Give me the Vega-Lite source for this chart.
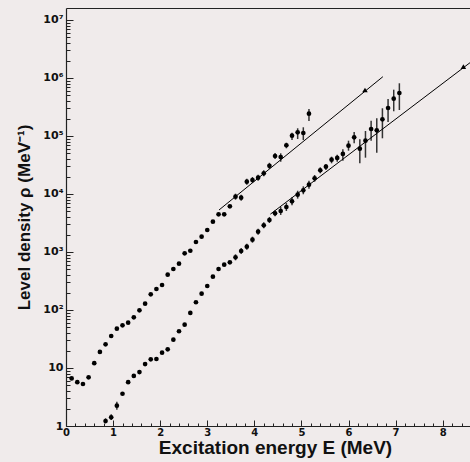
{
  "$schema": "https://vega.github.io/schema/vega-lite/v6.json",
  "width": 404,
  "height": 418,
  "autosize": "none",
  "padding": {"left": 66, "top": 8, "right": 0, "bottom": 36},
  "background": "#f0ebeb",
  "config": {
    "view": {"stroke": null},
    "axis": {
      "grid": false,
      "domainColor": "#222222",
      "tickColor": "#222222",
      "labelColor": "#111111",
      "labelFont": "DejaVu Sans",
      "labelFontWeight": "bold",
      "titleFont": "Liberation Sans",
      "titleFontWeight": "bold",
      "titleColor": "#111111",
      "labelOverlap": false,
      "labelFlush": false,
      "labelBound": false
    }
  },
  "datasets": {
    "pts": [
      {"series": "upper", "E": 0.12, "rho": 6.6},
      {"series": "upper", "E": 0.24, "rho": 5.7},
      {"series": "upper", "E": 0.36, "rho": 5.3},
      {"series": "upper", "E": 0.48, "rho": 6.9},
      {"series": "upper", "E": 0.60, "rho": 12.1},
      {"series": "upper", "E": 0.72, "rho": 18.9},
      {"series": "upper", "E": 0.84, "rho": 25.6},
      {"series": "upper", "E": 0.96, "rho": 35.6},
      {"series": "upper", "E": 1.08, "rho": 47.6},
      {"series": "upper", "E": 1.20, "rho": 54.5},
      {"series": "upper", "E": 1.32, "rho": 60.4},
      {"series": "upper", "E": 1.44, "rho": 74.8},
      {"series": "upper", "E": 1.56, "rho": 98.8},
      {"series": "upper", "E": 1.68, "rho": 128.5},
      {"series": "upper", "E": 1.80, "rho": 186.6},
      {"series": "upper", "E": 1.92, "rho": 230},
      {"series": "upper", "E": 2.04, "rho": 270},
      {"series": "upper", "E": 2.16, "rho": 406},
      {"series": "upper", "E": 2.28, "rho": 509},
      {"series": "upper", "E": 2.40, "rho": 628},
      {"series": "upper", "E": 2.52, "rho": 950},
      {"series": "upper", "E": 2.64, "rho": 1052},
      {"series": "upper", "E": 2.76, "rho": 1487},
      {"series": "upper", "E": 2.88, "rho": 1836},
      {"series": "upper", "E": 3.00, "rho": 2393},
      {"series": "upper", "E": 3.12, "rho": 3337},
      {"series": "upper", "E": 3.24, "rho": 4466},
      {"series": "upper", "E": 3.36, "rho": 4466},
      {"series": "upper", "E": 3.48, "rho": 6140},
      {"series": "upper", "E": 3.60, "rho": 8980, "lo": 7970, "hi": 10120},
      {"series": "upper", "E": 3.72, "rho": 8630, "lo": 7660, "hi": 9730},
      {"series": "upper", "E": 3.84, "rho": 16300, "lo": 14460, "hi": 18370},
      {"series": "upper", "E": 3.96, "rho": 17420, "lo": 15460, "hi": 19630},
      {"series": "upper", "E": 4.08, "rho": 19100, "lo": 16950, "hi": 21530},
      {"series": "upper", "E": 4.20, "rho": 22750, "lo": 20190, "hi": 25640},
      {"series": "upper", "E": 4.32, "rho": 30600, "lo": 27150, "hi": 34490},
      {"series": "upper", "E": 4.44, "rho": 45200, "lo": 40110, "hi": 50940},
      {"series": "upper", "E": 4.56, "rho": 43400, "lo": 36000, "hi": 50300},
      {"series": "upper", "E": 4.68, "rho": 69200, "lo": 61400, "hi": 76600},
      {"series": "upper", "E": 4.80, "rho": 101200, "lo": 85300, "hi": 114000},
      {"series": "upper", "E": 4.92, "rho": 115600, "lo": 88800, "hi": 135800},
      {"series": "upper", "E": 5.04, "rho": 112700, "lo": 85300, "hi": 141300},
      {"series": "upper", "E": 5.16, "rho": 242500, "lo": 181500, "hi": 292500},
      {"series": "lower", "E": 0.84, "rho": 1.22, "lo": 1.11, "hi": 1.36},
      {"series": "lower", "E": 0.96, "rho": 1.41, "lo": 1.27, "hi": 1.59},
      {"series": "lower", "E": 1.08, "rho": 2.24, "lo": 1.91, "hi": 2.63},
      {"series": "lower", "E": 1.20, "rho": 3.6},
      {"series": "lower", "E": 1.32, "rho": 5.7},
      {"series": "lower", "E": 1.44, "rho": 7.3},
      {"series": "lower", "E": 1.56, "rho": 8.5},
      {"series": "lower", "E": 1.68, "rho": 11.7},
      {"series": "lower", "E": 1.80, "rho": 14.1},
      {"series": "lower", "E": 1.92, "rho": 14.3},
      {"series": "lower", "E": 2.04, "rho": 18.4},
      {"series": "lower", "E": 2.16, "rho": 21},
      {"series": "lower", "E": 2.28, "rho": 30.8},
      {"series": "lower", "E": 2.40, "rho": 43},
      {"series": "lower", "E": 2.52, "rho": 55.8},
      {"series": "lower", "E": 2.64, "rho": 89},
      {"series": "lower", "E": 2.76, "rho": 136},
      {"series": "lower", "E": 2.88, "rho": 191},
      {"series": "lower", "E": 3.00, "rho": 259},
      {"series": "lower", "E": 3.12, "rho": 375},
      {"series": "lower", "E": 3.24, "rho": 509},
      {"series": "lower", "E": 3.36, "rho": 604},
      {"series": "lower", "E": 3.48, "rho": 664},
      {"series": "lower", "E": 3.60, "rho": 810, "lo": 719, "hi": 913},
      {"series": "lower", "E": 3.72, "rho": 1041, "lo": 924, "hi": 1173},
      {"series": "lower", "E": 3.84, "rho": 1234, "lo": 1095, "hi": 1391},
      {"series": "lower", "E": 3.96, "rho": 1629, "lo": 1445, "hi": 1836},
      {"series": "lower", "E": 4.08, "rho": 2239, "lo": 1987, "hi": 2523},
      {"series": "lower", "E": 4.20, "rho": 2886, "lo": 2561, "hi": 3252},
      {"series": "lower", "E": 4.32, "rho": 3565, "lo": 3163, "hi": 4018},
      {"series": "lower", "E": 4.44, "rho": 4647, "lo": 4123, "hi": 5237},
      {"series": "lower", "E": 4.56, "rho": 5093, "lo": 4350, "hi": 5960},
      {"series": "lower", "E": 4.68, "rho": 5970, "lo": 5100, "hi": 6985},
      {"series": "lower", "E": 4.80, "rho": 7480, "lo": 6390, "hi": 8750},
      {"series": "lower", "E": 4.92, "rho": 9730, "lo": 8320, "hi": 11380},
      {"series": "lower", "E": 5.04, "rho": 11580, "lo": 9900, "hi": 13550},
      {"series": "lower", "E": 5.16, "rho": 14470, "lo": 12340, "hi": 16950},
      {"series": "lower", "E": 5.28, "rho": 18650, "lo": 16290, "hi": 21270},
      {"series": "lower", "E": 5.40, "rho": 25650, "lo": 22750, "hi": 28860},
      {"series": "lower", "E": 5.52, "rho": 29580, "lo": 25940, "hi": 32900},
      {"series": "lower", "E": 5.64, "rho": 39000, "lo": 33830, "hi": 43980},
      {"series": "lower", "E": 5.76, "rho": 41800, "lo": 36060, "hi": 47640},
      {"series": "lower", "E": 5.88, "rho": 49000, "lo": 37500, "hi": 59000},
      {"series": "lower", "E": 6.00, "rho": 68000, "lo": 55800, "hi": 83000},
      {"series": "lower", "E": 6.12, "rho": 95000, "lo": 74800, "hi": 117200},
      {"series": "lower", "E": 6.24, "rho": 60400, "lo": 33830, "hi": 87700},
      {"series": "lower", "E": 6.36, "rho": 83000, "lo": 42300, "hi": 122000},
      {"series": "lower", "E": 6.48, "rho": 132000, "lo": 83000, "hi": 183500},
      {"series": "lower", "E": 6.60, "rho": 125400, "lo": 51500, "hi": 201800},
      {"series": "lower", "E": 6.72, "rho": 194000, "lo": 91300, "hi": 300500},
      {"series": "lower", "E": 6.84, "rho": 304000, "lo": 174300, "hi": 434500},
      {"series": "lower", "E": 6.96, "rho": 440000, "lo": 266800, "hi": 628700},
      {"series": "lower", "E": 7.08, "rho": 551000, "lo": 280700, "hi": 810800}
    ],
    "fits": [
      {"fit": "upper", "E": 3.25, "rho": 5300},
      {"fit": "upper", "E": 6.73, "rho": 1053000},
      {"fit": "lower", "E": 4.34, "rho": 4490},
      {"fit": "lower", "E": 8.58, "rho": 1836000}
    ],
    "tri": [
      {"fit": "upper", "E": 6.35, "rho": 621000},
      {"fit": "lower", "E": 8.44, "rho": 1566000}
    ]
  },
  "resolve": {"axis": {"x": "independent", "y": "independent"}},
  "layer": [
    {
      "data": {"name": "pts"},
      "transform": [{"filter": "isValid(datum.lo)"}],
      "mark": {"type": "rule", "color": "#333333", "strokeWidth": 1.5},
      "encoding": {
        "x": {
          "field": "E", "type": "quantitative",
          "scale": {"domain": [0, 8.58], "nice": false, "zero": false},
          "axis": {
            "orient": "bottom", "title": null, "labels": false, "domain": false,
            "tickSize": -3, "tickWidth": 1,
            "values": [0.2,0.4,0.6,0.8,1.2,1.4,1.6,1.8,2.2,2.4,2.6,2.8,3.2,3.4,3.6,3.8,4.2,4.4,4.6,4.8,5.2,5.4,5.6,5.8,6.2,6.4,6.6,6.8,7.2,7.4,7.6,7.8,8.2,8.4]
          }
        },
        "y": {
          "field": "lo", "type": "quantitative",
          "scale": {"type": "log", "domain": [1, 16100000], "nice": false},
          "axis": {
            "orient": "left", "title": null, "labels": false, "domain": false,
            "tickSize": -4, "tickWidth": 1,
            "values": [2,3,4,5,6,7,8,9,20,30,40,50,60,70,80,90,200,300,400,500,600,700,800,900,2000,3000,4000,5000,6000,7000,8000,9000,20000,30000,40000,50000,60000,70000,80000,90000,200000,300000,400000,500000,600000,700000,800000,900000,2000000,3000000,4000000,5000000,6000000,7000000,8000000,9000000]
          }
        },
        "y2": {"field": "hi"}
      }
    },
    {
      "data": {"name": "pts"},
      "mark": {"type": "point", "filled": true, "color": "#000000", "opacity": 1, "size": 22, "shape": "circle"},
      "encoding": {
        "x": {
          "field": "E", "type": "quantitative",
          "scale": {"domain": [0, 8.58], "nice": false, "zero": false},
          "axis": {
            "orient": "bottom", "title": "Excitation energy E (MeV)",
            "values": [0,1,2,3,4,5,6,7,8], "format": "d",
            "tickSize": -6, "tickWidth": 1, "domainWidth": 1.2,
            "labelFontSize": 10, "labelPadding": 7,
            "titleFontSize": 19, "titlePadding": 1, "titleX": 209
          }
        },
        "y": {
          "field": "rho", "type": "quantitative",
          "scale": {"type": "log", "domain": [1, 16100000], "nice": false},
          "axis": {
            "orient": "left", "title": "Level density ρ (MeV⁻¹)",
            "values": [1,10,100,1000,10000,100000,1000000,10000000],
            "labelExpr": "datum.value < 5 ? '1' : datum.value < 50 ? '10' : datum.value < 500 ? '10²' : datum.value < 5000 ? '10³' : datum.value < 50000 ? '10⁴' : datum.value < 500000 ? '10⁵' : datum.value < 5000000 ? '10⁶' : '10⁷'",
            "tickSize": -7, "tickWidth": 1, "domainWidth": 1.2,
            "labelFontSize": 11, "labelPadding": 10,
            "titleFontSize": 17, "titlePadding": 9
          }
        }
      }
    },
    {
      "data": {"name": "fits"},
      "mark": {"type": "line", "color": "#000000", "strokeWidth": 1},
      "encoding": {
        "x": {
          "field": "E", "type": "quantitative",
          "scale": {"domain": [0, 8.58], "nice": false, "zero": false},
          "axis": {"orient": "top", "title": null, "labels": false, "ticks": false, "domain": true, "domainWidth": 1.2}
        },
        "y": {"field": "rho", "type": "quantitative", "scale": {"type": "log", "domain": [1, 16100000], "nice": false}, "axis": null},
        "detail": {"field": "fit"}
      }
    },
    {
      "data": {"name": "tri"},
      "mark": {"type": "point", "filled": true, "shape": "triangle-up", "color": "#000000", "opacity": 1, "size": 30},
      "encoding": {
        "x": {"field": "E", "type": "quantitative", "scale": {"domain": [0, 8.58], "nice": false, "zero": false}, "axis": null},
        "y": {"field": "rho", "type": "quantitative", "scale": {"type": "log", "domain": [1, 16100000], "nice": false}, "axis": null}
      }
    }
  ]
}
